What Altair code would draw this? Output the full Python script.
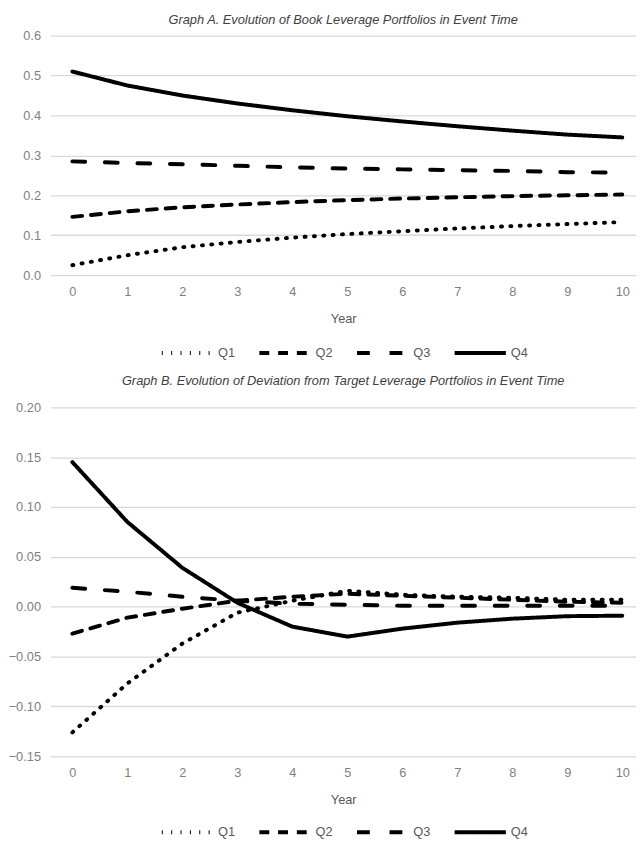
import altair as alt
import pandas as pd

years = list(range(11))
groups = ["Q1", "Q2", "Q3", "Q4"]

# Graph A: book leverage
a_q1 = [0.025, 0.050, 0.070, 0.083, 0.094, 0.103, 0.110, 0.117, 0.123, 0.128, 0.133]
a_q2 = [0.146, 0.160, 0.170, 0.177, 0.183, 0.188, 0.192, 0.195, 0.198, 0.200, 0.202]
a_q3 = [0.285, 0.281, 0.278, 0.274, 0.270, 0.267, 0.265, 0.263, 0.261, 0.258, 0.257]
a_q4 = [0.510, 0.475, 0.450, 0.430, 0.413, 0.398, 0.385, 0.373, 0.362, 0.352, 0.345]

# Graph B: deviation from target leverage
b_q1 = [-0.126, -0.077, -0.037, -0.006, 0.006, 0.016, 0.012, 0.010, 0.009, 0.007, 0.007]
b_q2 = [-0.027, -0.011, -0.002, 0.006, 0.010, 0.013, 0.011, 0.009, 0.007, 0.005, 0.004]
b_q3 = [0.019, 0.015, 0.010, 0.006, 0.003, 0.002, 0.001, 0.001, 0.001, 0.001, 0.001]
b_q4 = [0.145, 0.085, 0.039, 0.004, -0.020, -0.030, -0.022, -0.016, -0.012, -0.0095, -0.009]

a_ticks = [0.0, 0.1, 0.2, 0.3, 0.4, 0.5, 0.6]
b_ticks = [-0.15, -0.10, -0.05, 0.0, 0.05, 0.10, 0.15, 0.20]

title_a = "Graph A. Evolution of Book Leverage Portfolios in Event Time"
title_b = "Graph B. Evolution of Deviation from Target Leverage Portfolios in Event Time"

dashes = [[1, 8.5], [10, 9], [13, 20], [1, 0]]
FONT = "Liberation Sans"


def make_df(series):
    rows = []
    for g, vals in zip(groups, series):
        for yr, v in zip(years, vals):
            rows.append({"Year": yr, "Value": v, "Series": g})
    return pd.DataFrame(rows)


def panel(series, title, ticks, fmt, height, title_offset, legend_y):
    df = make_df(series)
    return alt.Chart(df).mark_line(
        color="black", strokeWidth=4, strokeCap="round", strokeJoin="round"
    ).encode(
        x=alt.X(
            "Year:Q",
            scale=alt.Scale(domain=[-0.4, 10.25], nice=False, zero=False),
            axis=alt.Axis(values=years, title="Year", grid=False, domain=False,
                          ticks=False, tickSize=0, labelPadding=11, titlePadding=14,
                          format="d"),
        ),
        y=alt.Y(
            "Value:Q",
            scale=alt.Scale(domain=[ticks[0], ticks[-1]], nice=False, zero=False),
            axis=alt.Axis(values=ticks, format=fmt, title=None, domain=False,
                          ticks=False, tickSize=0, labelPadding=10,
                          minExtent=38, maxExtent=38),
        ),
        strokeDash=alt.StrokeDash(
            "Series:N",
            scale=alt.Scale(domain=groups, range=dashes),
            legend=alt.Legend(
                title=None, orient="none", direction="horizontal",
                legendX=111, legendY=legend_y,
                symbolType="stroke", symbolSize=2704, symbolStrokeWidth=4,
                symbolStrokeColor="black", labelFontSize=13, labelColor="#595959",
                labelFont=FONT, labelOffset=3, columnPadding=16,
            ),
        ),
    ).properties(
        width=594,
        height=height,
        title=alt.Title(title, font=FONT, fontSize=13, fontStyle="italic",
                        fontWeight="normal", color="#404040", offset=title_offset,
                        anchor="middle"),
    )


chart_a = panel([a_q1, a_q2, a_q3, a_q4], title_a, a_ticks, ".1f", 243, 3, 294)
chart_b = panel([b_q1, b_q2, b_q3, b_q4], title_b, b_ticks, ".2f", 354, 14, 403)

chart = alt.vconcat(chart_a, chart_b, spacing=14).resolve_legend(
    strokeDash="independent"
).resolve_scale(strokeDash="independent").properties(
    padding={"left": 0, "top": 0, "right": 0, "bottom": 0}
).configure_view(stroke=None).configure_axis(
    labelFont=FONT, labelFontSize=13, labelColor="#7f7f7f",
    titleFont=FONT, titleFontSize=13, titleColor="#595959", titleFontWeight="normal",
    gridColor="#d9d9d9", gridWidth=1.3,
)

chart.save("out.html", embed_options={"renderer": "svg", "actions": False})
